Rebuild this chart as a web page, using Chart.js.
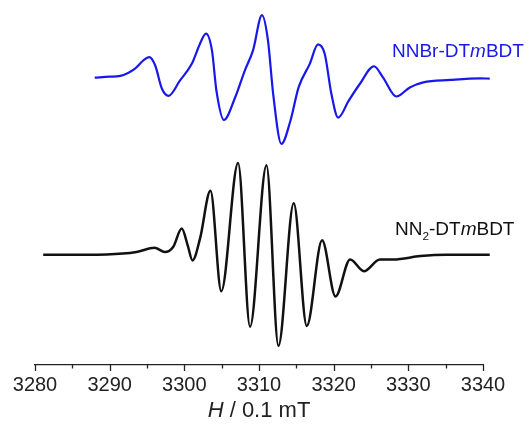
<!DOCTYPE html>
<html>
<head>
<meta charset="utf-8">
<script src="https://cdn.jsdelivr.net/npm/chart.js@4"></script>
<style>
  html, body { margin: 0; padding: 0; background: #fff; }
  #wrap { width: 531px; height: 426px; position: relative; }
</style>
</head>
<body>
<div id="wrap"><canvas id="grafico"></canvas></div>
<script>
const blueField = [3288.0, 3290.0, 3291.4, 3293.4, 3294.5, 3295.3, 3296.1, 3297.0, 3297.9, 3299.4,
  3301.0, 3302.1, 3302.9, 3303.7, 3304.3, 3305.3, 3306.8, 3308.1, 3309.2, 3310.4,
  3311.2, 3311.9, 3313.0, 3314.2, 3315.3, 3316.8, 3317.9, 3318.8, 3319.7, 3320.6,
  3322.0, 3323.5, 3325.4, 3326.6, 3328.4, 3330.2, 3332.0, 3335.6, 3339.6, 3340.9];
const blueSignal = [0, 1, 1.7, 9, 17, 20.3, 12, -11, -18, -3,
  13.7, 33.7, 43.7, 27, -13, -42, -19.7, 7, 27, 62,
  37, -16.3, -65.7, -43, -9.7, 13.7, 33, 23.7, -16.3, -39.7,
  -23, -6.3, 11.3, 0.3, -18.7, -9.7, -4.7, -2.3, -0.7, -1];

const blackField = [3281.1, 3289.6, 3293.6, 3296.0, 3297.4, 3298.5, 3299.65, 3300.45, 3301.1, 3302.1,
  3303.5, 3304.95, 3307.2, 3308.8, 3311.0, 3312.6, 3314.65, 3316.4, 3318.45, 3320.25,
  3322.2, 3324.05, 3326.2, 3328.0, 3331.6, 3335.1, 3340.9];
const blackSignal = [0, 0.4, 2.7, 7, 2.7, 7.7, 26, 9.4, -5.6, 16,
  63.4, -36.1, 91, -71.3, 88.7, -90.3, 51, -70.6, 14.4, -41.3,
  -4.6, -16.3, -4.6, -4.6, -1.3, 0, 0];

// deslocamento vertical de cada espectro
const blueOffset = 285;
const blackOffset = 109.3;

const majorTicks = [3280, 3290, 3300, 3310, 3320, 3330, 3340];
const minorTicks = [3285, 3295, 3305, 3315, 3325, 3335];

const FONTE = '"Liberation Sans", Arial, sans-serif';

function montarPontos(campo, sinal, offset) {
  return campo.map((x, i) => ({ x: x, y: sinal[i] + offset }));
}

// Utilitário: escreve partes de texto com estilos diferentes
function escreverPartes(ctx, partes, x, y, cor, tamanho) {
  ctx.fillStyle = cor;
  ctx.textBaseline = "alphabetic";
  ctx.textAlign = "left";
  let cx = x;
  partes.forEach((p) => {
    const tam = p.sub ? tamanho * 0.62 : tamanho;
    ctx.font = (p.italic ? "italic " : "") + tam + "px " + FONTE;
    ctx.fillText(p.t, cx, y + (p.sub ? tamanho * 0.28 : 0));
    cx += ctx.measureText(p.t).width;
  });
}

function larguraPartes(ctx, partes, tamanho) {
  let w = 0;
  partes.forEach((p) => {
    const tam = p.sub ? tamanho * 0.62 : tamanho;
    ctx.font = (p.italic ? "italic " : "") + tam + "px " + FONTE;
    w += ctx.measureText(p.t).width;
  });
  return w;
}

const decoracao = {
  id: "decoracao",
  afterDraw(chart) {
    const ctx = chart.ctx;
    const sx = chart.scales.x;
    const base = chart.chartArea.bottom;
    ctx.save();
    ctx.strokeStyle = "#222";
    ctx.lineWidth = 1.3;
    majorTicks.forEach((v) => {
      const px = Math.round(sx.getPixelForValue(v)) + 0.5;
      ctx.beginPath();
      ctx.moveTo(px, base);
      ctx.lineTo(px, base + 6);
      ctx.stroke();
    });
    minorTicks.forEach((v) => {
      const px = Math.round(sx.getPixelForValue(v)) + 0.5;
      ctx.beginPath();
      ctx.moveTo(px, base);
      ctx.lineTo(px, base + 3.5);
      ctx.stroke();
    });

    // rótulos das curvas
    escreverPartes(ctx, [{ t: "NNBr-DT" }, { t: "m", italic: true }, { t: "BDT" }],
      392, 57, "#1818e8", 19);
    escreverPartes(ctx, [{ t: "NN" }, { t: "2", sub: true }, { t: "-DT" }, { t: "m", italic: true }, { t: "BDT" }],
      395, 235, "#111", 19);

    // título do eixo
    const titulo = [{ t: "H", italic: true }, { t: " / 0.1 mT" }];
    const w = larguraPartes(ctx, titulo, 22);
    const cx = (chart.chartArea.left + chart.chartArea.right) / 2;
    escreverPartes(ctx, titulo, cx - w / 2, 417, "#222", 22);
    ctx.restore();
  },
};

new Chart(document.getElementById("grafico"), {
  type: "line",
  data: {
    datasets: [
      {
        label: "NNBr-DTmBDT",
        data: montarPontos(blueField, blueSignal, blueOffset),
        borderColor: "#1818e8",
        borderWidth: 2.2,
        pointRadius: 0,
        cubicInterpolationMode: "monotone",
        clip: false,
      },
      {
        label: "NN2-DTmBDT",
        data: montarPontos(blackField, blackSignal, blackOffset),
        borderColor: "#111",
        borderWidth: 2.5,
        pointRadius: 0,
        cubicInterpolationMode: "monotone",
        clip: false,
      },
    ],
  },
  options: {
    responsive: true,
    maintainAspectRatio: false,
    animation: false,
    layout: { padding: { left: 35, right: 48, top: 0, bottom: 21 } },
    plugins: { legend: { display: false }, tooltip: { enabled: false } },
    scales: {
      x: {
        type: "linear",
        min: 3280,
        max: 3340,
        afterBuildTicks: (scale) => {
          scale.ticks = majorTicks.map((v) => ({ value: v }));
        },
        grid: { display: false, drawTicks: false },
        border: { display: true, color: "#222", width: 1.3 },
        ticks: {
          padding: 8,
          color: "#222",
          font: { family: FONTE, size: 20 },
          maxRotation: 0,
          callback: (v) => String(v),
        },
      },
      y: {
        display: false,
        min: 0,
        max: 362,
      },
    },
  },
  plugins: [decoracao],
});
</script>
</body>
</html>
